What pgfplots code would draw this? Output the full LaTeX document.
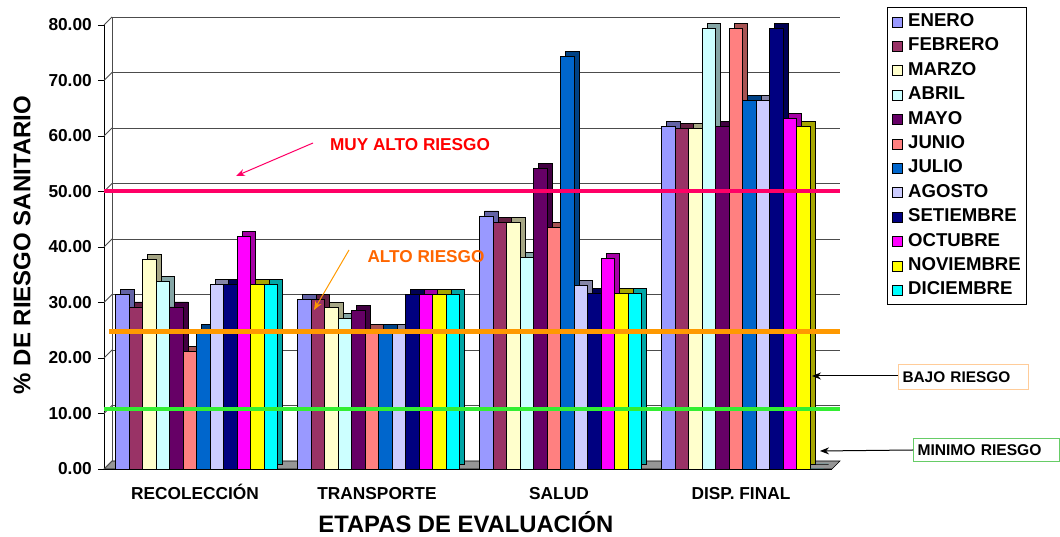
\documentclass[border=0pt]{standalone}
\usepackage{fontspec}
\setmainfont{Liberation Sans}
\usepackage{pgfplots}
\usepackage{pgfplotstable}
\pgfplotsset{compat=1.18}
\usetikzlibrary{arrows.meta}

\definecolor{cEne}{HTML}{9999FF}
\definecolor{cFeb}{HTML}{993366}
\definecolor{cMar}{HTML}{FFFFCC}
\definecolor{cAbr}{HTML}{CCFFFF}
\definecolor{cMay}{HTML}{660066}
\definecolor{cJun}{HTML}{FF8080}
\definecolor{cJul}{HTML}{0066CC}
\definecolor{cAgo}{HTML}{CCCCFF}
\definecolor{cSet}{HTML}{000080}
\definecolor{cOct}{HTML}{FF00FF}
\definecolor{cNov}{HTML}{FFFF00}
\definecolor{cDic}{HTML}{00FFFF}
\definecolor{pinkline}{HTML}{FF0066}
\definecolor{orangeline}{HTML}{FF9900}
\definecolor{greenline}{HTML}{33EE33}
\definecolor{altotext}{HTML}{FF6600}
\definecolor{bajoborder}{HTML}{FFCC99}
\definecolor{minimoborder}{HTML}{66CC66}
\definecolor{floorgray}{HTML}{969696}

\pgfplotstableread{
x ENE FEB MAR ABR MAY JUN JUL AGO SET OCT NOV DIC
0 31.4 29.2 37.7 33.8 29.2 21.1 25.2 33.2 33.2 41.9 33.2 33.2
1 30.6 30.6 29.1 27.1 28.6 25.2 25.2 25.2 31.5 31.5 31.5 31.5
2 45.6 44.4 44.4 38.1 54.1 43.6 74.3 33.0 31.6 38.0 31.6 31.6
3 61.8 61.3 61.3 79.3 61.8 79.3 66.4 66.4 79.3 63.2 61.8 0.0
}\datatable

\newcommand\monthbars[3]{%
  \addplot[ybar, bar width=0.0742, bar shift=#3, fill=#2!65!black, draw=black,
    line width=0.8pt, xshift=5pt, yshift=5pt, forget plot]
    table[x=x,y=#1]{\datatable};
  \addplot[ybar, bar width=0.0742, bar shift=#3, fill=#2, draw=black,
    line width=0.8pt,
    legend image code/.code={\draw[fill=#2,draw=black,line width=0.8pt] (0pt,-5pt) rectangle (10pt,5pt);}]
    table[x=x,y=#1]{\datatable};
}

\begin{document}
\begin{tikzpicture}
\useasboundingbox (-104pt,-68pt) rectangle (956pt,469pt);
\begin{axis}[
  at={(0pt,0pt)}, anchor=south west,
  scale only axis, width=728pt, height=444pt,
  xmin=-0.5, xmax=3.5, ymin=0, ymax=80,
  enlargelimits=false, clip=false,
  axis lines*=left,
  axis line style={black, line width=0.8pt},
  xtick={0,1,2,3},
  xticklabels={RECOLECCIÓN,TRANSPORTE,SALUD,DISP. FINAL},
  major x tick style={draw=none},
  extra x ticks={-0.5,0.5,1.5,2.5,3.5},
  extra x tick labels={},
  extra x tick style={major tick length=8pt, tick align=outside, tick style={black, line width=0.8pt}},
  ytick={0,10,...,80},
  yticklabels={0.00,10.00,20.00,30.00,40.00,50.00,60.00,70.00,80.00},
  tick align=outside, major tick length=6pt,
  tick style={black, line width=0.8pt},
  tick label style={font=\fontsize{17.3}{19}\selectfont\bfseries},
  yticklabel style={inner sep=0pt, xshift=-6pt},
  xticklabel style={anchor=north, text height=12.5pt, text depth=0pt, inner sep=0pt, yshift=-12pt},
  ylabel={\% DE RIESGO SANITARIO},
  ylabel style={at={(axis description cs:-0.1126,0.5045)}, anchor=center, font=\fontsize{24}{26}\selectfont\bfseries},
  xlabel={ETAPAS DE EVALUACIÓN},
  xlabel style={at={(axis description cs:0.497,-0.1205)}, anchor=center, inner sep=0pt, font=\fontsize{23.8}{26}\selectfont\bfseries},
  legend style={at={(axis description cs:1.0755,1.0405)}, anchor=north west,
    draw=black, line width=0.8pt, inner sep=5pt,
    font=\fontsize{18.6}{20}\selectfont\bfseries,
    nodes={inner sep=1pt, text height=13pt, text depth=4pt},
    row sep=5.4pt,
    /tikz/every odd column/.append style={column sep=4pt}},
  legend cell align=left,
]
% floor
\fill[floorgray, draw=black, line width=0.6pt] (axis cs:-0.5,0) -- (axis cs:3.5,0)
   -- ([shift={(8pt,8pt)}]axis cs:3.5,0) -- ([shift={(8pt,8pt)}]axis cs:-0.5,0) -- cycle;
% back wall grid lines and side stubs
\pgfplotsinvokeforeach{10,20,30,40,50,60,70,80}{
  \draw[gray!60!black, line width=0.8pt] ([shift={(8pt,8pt)}]axis cs:-0.5,#1) -- ([shift={(8pt,8pt)}]axis cs:3.5,#1);
}
\pgfplotsinvokeforeach{0,10,20,30,40,50,60,70,80}{
  \draw[gray!60!black, line width=0.8pt] (axis cs:-0.5,#1) -- ([shift={(8pt,8pt)}]axis cs:-0.5,#1);
}
\draw[gray!60!black, line width=0.8pt] ([shift={(8pt,8pt)}]axis cs:-0.5,0) -- ([shift={(8pt,8pt)}]axis cs:-0.5,80);

\monthbars{ENE}{cEne}{-0.3991}
\monthbars{FEB}{cFeb}{-0.3249}
\monthbars{MAR}{cMar}{-0.2507}
\monthbars{ABR}{cAbr}{-0.1765}
\monthbars{MAY}{cMay}{-0.1023}
\monthbars{JUN}{cJun}{-0.0281}
\monthbars{JUL}{cJul}{0.0461}
\monthbars{AGO}{cAgo}{0.1203}
\monthbars{SET}{cSet}{0.1945}
\monthbars{OCT}{cOct}{0.2687}
\monthbars{NOV}{cNov}{0.3429}
\monthbars{DIC}{cDic}{0.4171}

% risk threshold lines
\addplot[forget plot, draw=pinkline, line width=4pt] coordinates {(-0.5,50) (3.544,50)};
\addplot[forget plot, draw=orangeline, line width=5pt] coordinates {(-0.47,24.7) (3.544,24.7)};
\addplot[forget plot, draw=greenline, line width=4pt] coordinates {(-0.5,10.8) (3.544,10.8)};

\legend{ENERO,FEBRERO,MARZO,ABRIL,MAYO,JUNIO,JULIO,AGOSTO,SETIEMBRE,OCTUBRE,NOVIEMBRE,DICIEMBRE}
\end{axis}

% annotations
\node[text=red, font=\fontsize{17.2}{19}\selectfont\bfseries] at (306pt,324pt) {MUY ALTO RIESGO};
\draw[-{Stealth[length=9pt,width=7pt]}, pinkline, line width=1pt] (209pt,326pt) -- (132pt,293pt);
\node[text=altotext, font=\fontsize{17.2}{19}\selectfont\bfseries] at (322pt,212pt) {ALTO RIESGO};
\draw[-{Stealth[length=9pt,width=7pt]}, orangeline, line width=1pt] (245pt,219pt) -- (210pt,159pt);
\node[anchor=west, draw=bajoborder, line width=1pt, text width=122pt, align=left, inner sep=4pt,
  minimum height=25pt, font=\fontsize{15.4}{17}\selectfont\bfseries] at (794pt,92pt) {BAJO RIESGO};
\draw[{Stealth[length=9pt,width=7pt]}-, black, line width=1pt] (708pt,93pt) -- (794pt,93pt);
\node[anchor=west, draw=minimoborder, line width=1pt, text width=138pt, align=left, inner sep=4pt,
  minimum height=23pt, font=\fontsize{15.6}{17}\selectfont\bfseries] at (809pt,19pt) {MINIMO RIESGO};
\draw[{Stealth[length=9pt,width=7pt]}-, black, line width=1pt] (716pt,18pt) -- (809pt,19pt);
\end{tikzpicture}
\end{document}
